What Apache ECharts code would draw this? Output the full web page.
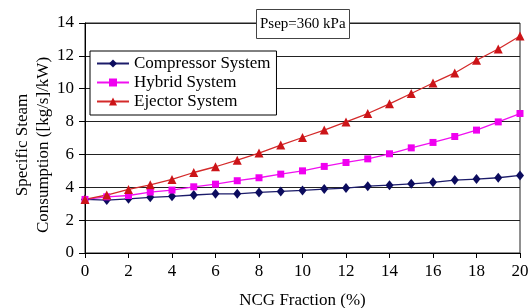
<!DOCTYPE html>
<html>
<head>
<meta charset="utf-8">
<script src="https://cdn.jsdelivr.net/npm/echarts@6/dist/echarts.min.js"></script>
<style>
  html, body { margin: 0; padding: 0; background: #fff; }
  #main { width: 528px; height: 308px; }
</style>
</head>
<body>
<div id="main"></div>
<script>
// NCG fraction (%)
var ncg = [0, 1, 2, 3, 4, 5, 6, 7, 8, 9, 10, 11, 12, 13, 14, 15, 16, 17, 18, 19, 20];
// specific steam consumption
var compressor = [3.26, 3.22, 3.3, 3.39, 3.45, 3.53, 3.6, 3.6, 3.69, 3.75, 3.81, 3.89, 3.95, 4.07, 4.13, 4.21, 4.3, 4.44, 4.5, 4.58, 4.72];
var hybrid = [3.26, 3.42, 3.5, 3.71, 3.83, 4.03, 4.19, 4.4, 4.58, 4.8, 5.0, 5.27, 5.51, 5.73, 6.04, 6.4, 6.73, 7.09, 7.48, 7.98, 8.49];
var ejector = [3.26, 3.53, 3.87, 4.15, 4.48, 4.9, 5.25, 5.65, 6.08, 6.57, 7.03, 7.48, 7.98, 8.49, 9.08, 9.71, 10.35, 10.96, 11.73, 12.42, 13.21];

var font = 'Liberation Serif';

function pairs(vals) {
  return ncg.map(function (x, i) { return [x, vals[i]]; });
}

var chart = echarts.init(document.getElementById('main'));
var option = {
  backgroundColor: '#fff',
  animation: false,
  textStyle: { fontFamily: font, color: '#000' },
  grid: {
    left: 85, right: 8, top: 23, bottom: 55,
    outerBoundsMode: 'none', containLabel: false,
    show: true, borderColor: '#222', borderWidth: 1, backgroundColor: 'transparent'
  },
  title: {
    text: 'Psep=360 kPa',
    left: 256, top: 9,
    padding: [8, 4, 7, 4],
    backgroundColor: '#fff',
    borderColor: '#444',
    borderWidth: 1,
    textStyle: { fontFamily: font, fontSize: 15, fontWeight: 'normal', color: '#000' }
  },
  legend: {
    orient: 'vertical',
    left: 90, top: 51,
    padding: [3, 6, 4, 6],
    backgroundColor: '#fff',
    borderColor: '#000',
    borderWidth: 1,
    borderRadius: 0,
    itemWidth: 32,
    itemHeight: 10,
    itemGap: 0,
    textStyle: { fontFamily: font, fontSize: 17, color: '#000', lineHeight: 19 },
    data: ['Compressor System', 'Hybrid System', 'Ejector System']
  },
  xAxis: {
    type: 'value',
    min: 0, max: 20, interval: 2,
    name: 'NCG Fraction (%)',
    nameLocation: 'middle',
    nameGap: 39,
    nameMoveOverlap: false,
    nameTextStyle: { fontFamily: font, fontSize: 17, color: '#000' },
    axisLine: { lineStyle: { color: '#000', width: 1 } },
    axisTick: { show: true, length: 5, lineStyle: { color: '#000' } },
    axisLabel: { fontFamily: font, fontSize: 17, color: '#000', margin: 10 },
    splitLine: { show: false }
  },
  yAxis: {
    type: 'value',
    min: 0, max: 14, interval: 2,
    name: 'Specific Steam\nConsumption ([kg/s]/kW)',
    nameLocation: 'middle',
    nameGap: 31,
    nameMoveOverlap: false,
    nameTextStyle: { fontFamily: font, fontSize: 17, color: '#000', lineHeight: 21, padding: [0, 14, 0, 0] },
    axisLine: { show: true, lineStyle: { color: '#000', width: 1 } },
    axisTick: { show: true, length: 6, lineStyle: { color: '#000' } },
    axisLabel: { fontFamily: font, fontSize: 17, color: '#000', margin: 11 },
    splitLine: { show: true, lineStyle: { color: '#222', width: 1 } }
  },
  series: [
    {
      name: 'Compressor System', type: 'line', data: pairs(compressor),
      symbol: 'diamond', symbolSize: [8, 10],
      lineStyle: { color: '#1c1c6a', width: 1.3 },
      itemStyle: { color: '#0c0c5e' }
    },
    {
      name: 'Hybrid System', type: 'line', data: pairs(hybrid),
      symbol: 'rect', symbolSize: 7,
      lineStyle: { color: '#f010f0', width: 1.3 },
      itemStyle: { color: '#f000f0' }
    },
    {
      name: 'Ejector System', type: 'line', data: pairs(ejector),
      symbol: 'triangle', symbolSize: 9,
      lineStyle: { color: '#d42a2a', width: 1.3 },
      itemStyle: { color: '#cc1418' }
    }
  ]
};
chart.setOption(option);
</script>
</body>
</html>
